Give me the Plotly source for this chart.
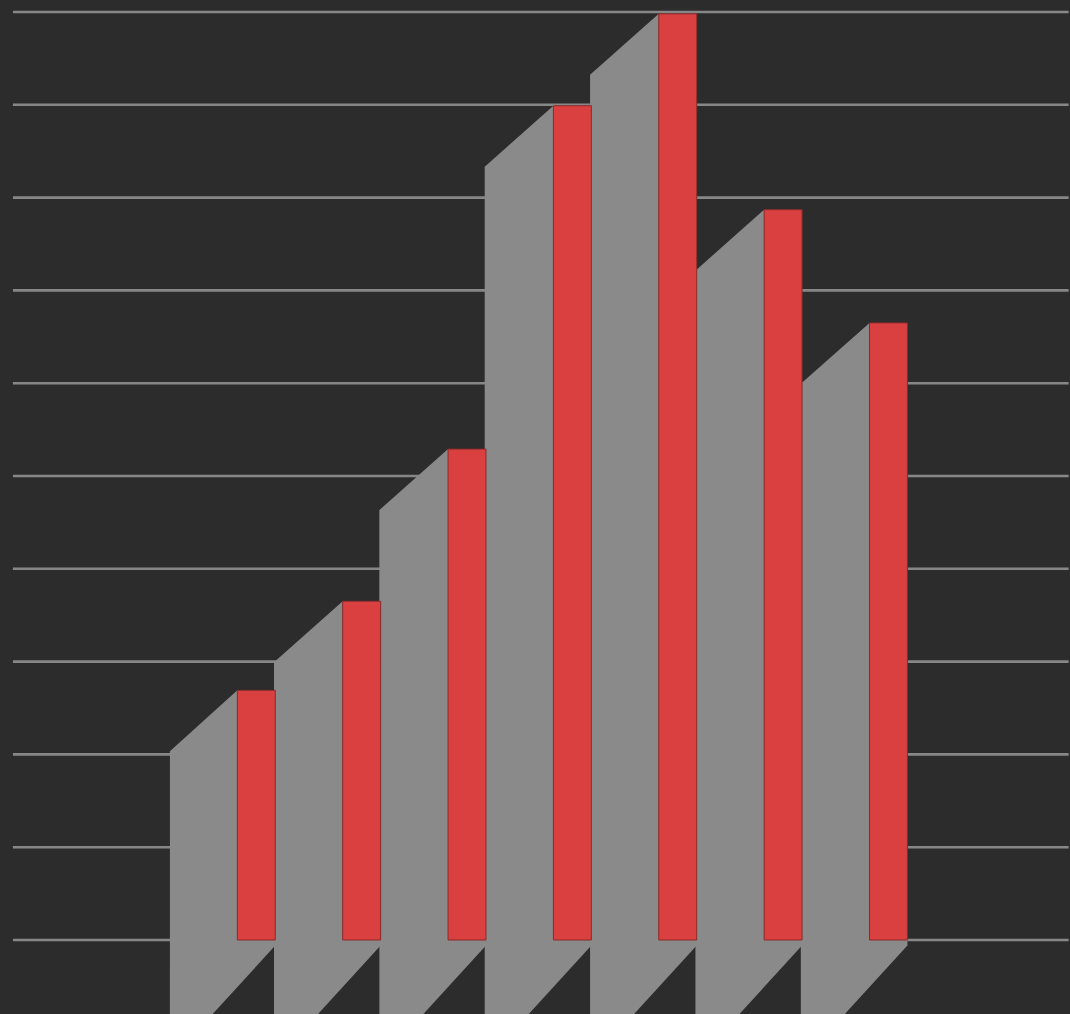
import plotly.graph_objects as go

# ---- data ----
categories = ["1", "2", "3", "4", "5", "6", "7"]
values = [2.69, 3.65, 5.29, 8.99, 9.98, 7.87, 6.65]
grid_levels = [0, 1, 2, 3, 4, 5, 6, 7, 8, 9, 10]

# ---- style / geometry ----
BG = "#2c2c2d"
GRAY = "#8a8a8a"
RED = "#d9403f"
RED_EDGE = "#8a2a2a"
GRID = "#878787"

bar_w = 0.36           # red face width (x units)
depth_x = 1 - bar_w    # extrusion to the left (x units)
depth_y = 0.657        # extrusion downward at the top (y units)
base_y = -0.06         # where the bottom diagonal starts
diag_dy = 1.08         # bottom diagonal drop (y units)
diag_dx = 0.87         # bottom diagonal run (x units)
eps = 0.012

x_range = [-2.4326, 7.7232]
y_range = [-0.7974, 10.1293]

fig = go.Figure()

# gridlines
gx, gy = [], []
for g in grid_levels:
    gx += [-2.31, 7.71, None]
    gy += [g, g, None]
fig.add_trace(go.Scatter(x=gx, y=gy, mode="lines",
                         line=dict(color=GRID, width=2.6),
                         hoverinfo="skip", showlegend=False))

n = len(values)
# gray extrusions, drawn right-to-left so that left bars sit in front
for i in reversed(range(n)):
    v = values[i]
    L = i - bar_w / 2
    R = i + bar_w / 2
    left = L - depth_x - (eps if i > 0 else 0)
    xs = [left, L, R, R, R - diag_dx, left, left]
    ys = [v - depth_y, v, v, base_y, base_y - diag_dy, base_y - diag_dy, v - depth_y]
    fig.add_trace(go.Scatter(x=xs, y=ys, mode="lines", fill="toself",
                             fillcolor=GRAY, line=dict(width=0, color=GRAY),
                             hoverinfo="skip", showlegend=False))

# red front faces
for i in range(n):
    v = values[i]
    L = i - bar_w / 2
    R = i + bar_w / 2
    fig.add_trace(go.Scatter(x=[L, R, R, L, L], y=[0, 0, v, v, 0],
                             mode="lines", fill="toself", fillcolor=RED,
                             line=dict(width=1, color=RED_EDGE),
                             name=categories[i], showlegend=False))

fig.update_layout(
    width=1070, height=1014,
    margin=dict(l=0, r=0, t=0, b=0),
    paper_bgcolor=BG, plot_bgcolor=BG,
    xaxis=dict(range=x_range, visible=False, fixedrange=True),
    yaxis=dict(range=y_range, visible=False, fixedrange=True),
    showlegend=False,
)

fig.write_html("out.html", config={"displayModeBar": False})
